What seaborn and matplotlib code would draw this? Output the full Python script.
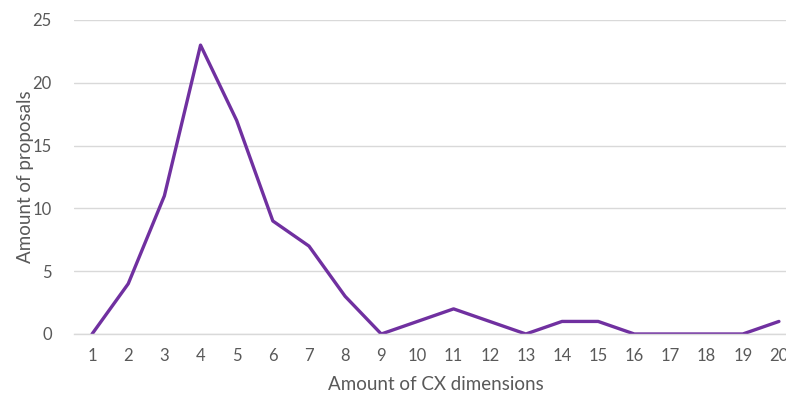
import numpy as np
import pandas as pd
import matplotlib.pyplot as plt
import seaborn as sns

dimensions = list(range(1, 21))
proposals = [0, 4, 11, 23, 17, 9, 7, 3, 0, 1, 2, 1, 0, 1, 1, 0, 0, 0, 0, 1]

df = pd.DataFrame({'dims': dimensions, 'proposals': proposals})

sns.set_theme(style='white')
plt.rcParams['font.family'] = ['Lato', 'DejaVu Sans']

fig = plt.figure(figsize=(7.86, 3.96), dpi=100)
ax = fig.add_axes([74 / 786, 62 / 396, 723 / 786, 314 / 396])

sns.lineplot(data=df, x='dims', y='proposals', ax=ax, color='#7030A0', linewidth=2.4)

ax.set_xlim(0.5, 20.5)
ax.set_ylim(0, 25)
ax.set_yticks(range(0, 26, 5))
ax.set_xticks(dimensions)
ax.set_xticks(np.arange(0.5, 21, 1), minor=True)
ax.yaxis.grid(True, color='#d9d9d9', linewidth=1)
ax.set_axisbelow(True)
for s in ['top', 'right', 'left']:
    ax.spines[s].set_visible(False)
ax.spines['bottom'].set_color('#d9d9d9')
ax.spines['bottom'].set_linewidth(1)

ax.tick_params(axis='x', which='major', length=0, pad=10, labelsize=12, labelcolor='#595959')
ax.tick_params(axis='x', which='minor', length=6, color='#d9d9d9', width=1, direction='out')
ax.tick_params(axis='y', length=0, pad=16, labelsize=12, labelcolor='#595959')

ax.set_xlabel('Amount of CX dimensions', fontsize=13.5, color='#595959', labelpad=9)
ax.set_ylabel('Amount of proposals', fontsize=13.5, color='#595959', labelpad=-1)

fig.savefig('out.png', dpi=100)
